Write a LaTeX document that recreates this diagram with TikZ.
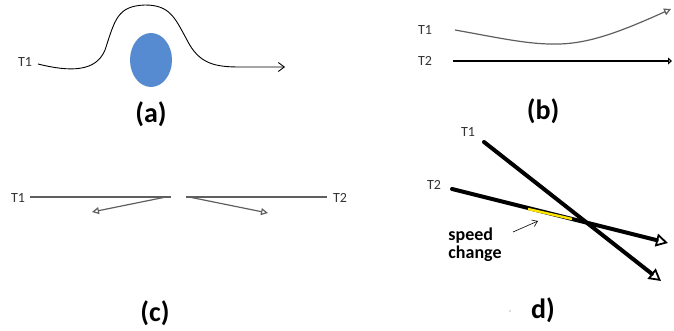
\documentclass[tikz,border=0pt]{standalone}
\usepackage{fontspec}
\setmainfont{Carlito}
\usetikzlibrary{arrows.meta,shapes.geometric}
\definecolor{blobblue}{RGB}{86,139,209}
\definecolor{linegray}{RGB}{95,95,95}
\definecolor{hiyellow}{RGB}{255,230,0}
\tikzset{
  tlabel/.style={font=\fontsize{14}{16}\selectfont, text=black!80, inner sep=0pt},
  panel/.style={font=\bfseries\fontsize{28}{32}\selectfont, inner sep=0pt},
  note/.style={font=\bfseries\fontsize{18}{20}\selectfont, inner sep=0pt, align=left},
  thin path/.style={line width=0.9pt},
  gray path/.style={line width=1.2pt, draw=linegray},
  fat path/.style={line width=4pt, line cap=round},
}
\begin{document}
\begin{tikzpicture}[x=1pt,y=-1pt]
\useasboundingbox (0,0) rectangle (674,331);
% ---------- (a)
\node[tlabel] (a1) at (25,62) {T1};
\node[ellipse, fill=blobblue, minimum width=42pt, minimum height=54pt, inner sep=0pt] (blob) at (151,60) {};
\coordinate (as) at (38,64);
\coordinate (ae) at (285,67);
\draw[thin path, -{Straight Barb[length=6pt,width=9pt]}]
  (as) .. controls (70,72) and (96,72) .. (105,50)
  .. controls (115,20) and (117,6) .. (145,5)
  .. controls (170,5) and (175,18) .. (187,40)
  .. controls (199,64) and (215,67) .. (240,67) -- (ae);
\node[panel] (la) at (151,114) {(a)};
% ---------- (b)
\node[tlabel] (b1) at (425,30) {T1};
\node[tlabel] (b2) at (425,61) {T2};
\coordinate (b1s) at (455,30);
\coordinate (b1e) at (671,9);
\coordinate (b2s) at (453,61);
\coordinate (b2e) at (672,61);
\draw[gray path, -{Triangle[open,length=7pt,width=7pt]}]
  (b1s) .. controls (500,38) and (530,45) .. (560,44)
  .. controls (590,43) and (620,32) .. (b1e);
\draw[gray path, black, -{Triangle[open,length=4pt,width=7pt]}] (b2s) -- (b2e);
\node[panel] (lb) at (543,111) {(b)};
% ---------- (c)
\node[tlabel] (c1) at (18,198) {T1};
\node[tlabel] (c2) at (340,198) {T2};
\coordinate (c1s) at (30,197);
\coordinate (c1e) at (171,197);
\coordinate (c2s) at (186,197);
\coordinate (c2e) at (327,197);
\coordinate (cl1) at (166,197);
\coordinate (cl2) at (92,212);
\coordinate (cr1) at (189,197);
\coordinate (cr2) at (268,213);
\draw[gray path] (c1s) -- (c1e);
\draw[gray path] (c2s) -- (c2e);
\draw[gray path, -{Triangle[open,length=7pt,width=7pt]}] (cl1) -- (cl2);
\draw[gray path, -{Triangle[open,length=7pt,width=7pt]}] (cr1) -- (cr2);
\node[panel] (lc) at (155,313) {(c)};
% ---------- (d)
\node[tlabel] (d1) at (468,132) {T1};
\node[tlabel] (d2) at (434,185) {T2};
\coordinate (d1s) at (484,142);
\coordinate (d1e) at (661,281);
\coordinate (d2s) at (452,189);
\coordinate (d2e) at (668,243);
\coordinate (ys) at (528,209);
\coordinate (ye) at (572,219);
\draw[fat path, -{Triangle[open,length=12pt,width=13pt,line width=1.8pt]}] (d1s) -- (d1e);
\draw[fat path, -{Triangle[open,length=12pt,width=13pt,line width=1.8pt]}] (d2s) -- (d2e);
\draw[line width=2.4pt, hiyellow] (ys) -- (ye);
\node[note] (sc) at (475,245) {speed\\[-2pt]change};
\coordinate (nt) at (513,232);
\coordinate (nh) at (538,221);
\draw[line width=0.6pt, -{Straight Barb[length=5pt,width=7pt]}] (nt) -- (nh);
\node[panel] (ld) at (543,310) {d)};
\fill[black!60] (510,311) circle (0.7pt);
\end{tikzpicture}
\end{document}
